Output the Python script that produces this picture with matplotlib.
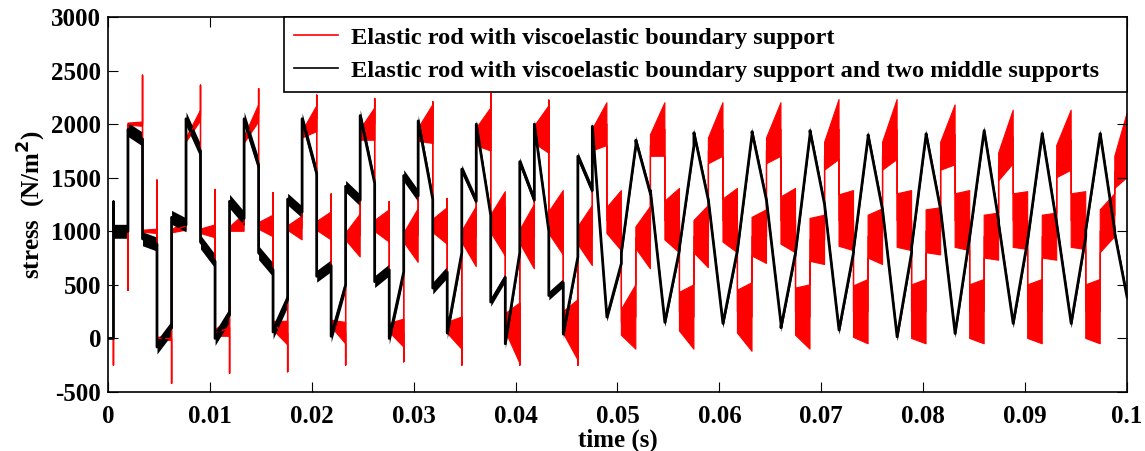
import numpy as np
import matplotlib
matplotlib.use("Agg")
import matplotlib.pyplot as plt
from matplotlib.lines import Line2D

plt.rcParams['font.family'] = ['Liberation Serif', 'DejaVu Serif']
plt.rcParams['font.size'] = 18
plt.rcParams['font.weight'] = 'bold'
plt.rcParams['axes.labelweight'] = 'bold'
plt.rcParams['mathtext.default'] = 'bf'
plt.rcParams['axes.unicode_minus'] = False
plt.rcParams['hatch.linewidth'] = 1.1

# segment edges (ms)
t_edges = [0.54, 1.96, 3.39, 4.81, 6.24, 7.66, 9.08, 10.51, 11.93, 13.36,
           14.78, 16.20, 17.63, 19.05, 20.48, 21.90, 23.32, 24.75, 26.17, 27.60,
           29.02, 30.44, 31.87, 33.29, 34.72, 36.14, 37.56, 38.99, 40.41, 41.84,
           43.26, 44.68, 46.11, 47.53, 48.96, 50.38, 51.80, 53.23, 54.65, 56.08,
           57.50, 58.92, 60.35, 61.77, 63.20, 64.62, 66.04, 67.47, 68.89, 70.32,
           71.74, 73.16, 74.59, 76.01, 77.44, 78.86, 80.28, 81.71, 83.13, 84.56,
           85.98, 87.40, 88.83, 90.25, 91.68, 93.10, 94.52, 95.95, 97.37, 98.80,
           100.0]

# red: elastic rod with viscoelastic boundary support
# one row per cycle: [mid-up, top, mid-down, bottom]
red_start = [1000, 2000, 1000, 0,
             1000, 1850, 1000, 50,
             1020, 1850, 1050, 120,
             1030, 1900, 1050, 140,
             950, 1900, 1050, 100,
             940, 1900, 1050, 100,
             950, 1880, 1070, 150,
             950, 1900, 1080, 150,
             960, 1850, 1100, 150,
             940, 1800, 1100, 250,
             950, 1750, 1100, 250,
             950, 1750, 1100, 250,
             920, 1700, 1100, 250,
             950, 1700, 1100, 250,
             1000, 1700, 1100, 250,
             950, 1600, 1100, 250,
             950, 1650, 1100, 250,
             1000, 1550]
red_end = [1000, 2000, 1000, 0,
           1050, 2080, 1000, 100,
           1080, 2100, 1050, 50,
           1030, 2050, 1050, 50,
           960, 2000, 1050, 50,
           960, 2000, 1050, 50,
           950, 1950, 1070, 50,
           950, 1950, 1080, 80,
           960, 2000, 1100, 200,
           940, 1950, 1100, 200,
           950, 1950, 1100, 200,
           950, 1950, 1100, 200,
           920, 1950, 1100, 250,
           950, 1950, 1100, 250,
           1000, 1900, 1100, 250,
           950, 1880, 1100, 250,
           950, 1850, 1100, 250,
           1150, 1800]
red_amp_start = [5, 10, 10, 10,
                 15, 20, 20, 30,
                 20, 30, 30, 40,
                 20, 30, 40, 30,
                 30, 50, 50, 40,
                 40, 60, 60, 50,
                 50, 80, 80, 80,
                 60, 80, 100, 100,
                 80, 100, 120, 120,
                 100, 100, 180, 180,
                 150, 120, 200, 200,
                 180, 120, 220, 220,
                 200, 130, 240, 240,
                 200, 130, 250, 250,
                 200, 130, 250, 250,
                 200, 130, 250, 250,
                 200, 150, 250, 250,
                 200, 150]
red_amp_end = [5, 20, 20, 20,
               40, 50, 60, 80,
               80, 80, 100, 110,
               110, 120, 130, 100,
               200, 150, 150, 130,
               250, 180, 170, 150,
               280, 200, 300, 280,
               300, 220, 300, 280,
               280, 200, 280, 300,
               290, 250, 300, 300,
               290, 250, 300, 320,
               250, 250, 300, 300,
               230, 280, 280, 300,
               260, 280, 280, 300,
               220, 280, 280, 300,
               220, 250, 270, 300,
               220, 280, 270, 300,
               200, 300]
# spikes of the red curve at the edges (edge index, value)
red_spike_edge = [0, 1, 2, 3, 4, 5, 6, 7, 8, 9, 10, 11, 12, 14, 15, 16,
                  18, 19, 20, 22, 23, 24, 26, 27, 28, 30, 31, 32]
red_spike_val = [-250, 450, 2456, 1477, -420, 1350, 2363, 1390, -326, 1380,
                 2332, 1359, -310, 2270, 1347, -249, 2239, 1275, -217, 2208,
                 1306, -248, 2286, 1228, -248, 2223, 1322, -248]

# black: elastic rod with viscoelastic boundary support and two middle supports
black_start = [1000, 1950, 930, -80,
               1130, 2050, 900, 0,
               1280, 2050, 800, 60,
               1300, 2050, 580, 20,
               1420, 2080, 530, 0,
               1520, 2030, 470, 50,
               1580, 2000, 340, -50,
               1650, 2000, 400, 40,
               1700, 1980, 200, 800,
               1850, 1380, 150, 850,
               1920, 1290, 140, 824,
               1930, 1290, 100, 800,
               1940, 1250, 78, 824,
               1900, 1200, 15, 850,
               1910, 1200, 46, 948,
               1940, 1072, 140, 917,
               1910, 1072, 140, 1010,
               1910, 979]
black_end = [1000, 1860, 880, 100,
             1060, 1750, 720, 220,
             1120, 1620, 640, 360,
             1180, 1540, 680, 500,
             1290, 1450, 640, 620,
             1330, 1300, 620, 800,
             1280, 1150, 570, 800,
             1290, 1000, 520, 760,
             1380, 200, 700, 1800,
             1350, 150, 824, 1800,
             1290, 140, 824, 1900,
             1290, 140, 800, 1900,
             1250, 80, 800, 1880,
             1200, 20, 800, 1900,
             1200, 50, 948, 1940,
             1100, 140, 917, 1912,
             1072, 140, 950, 1912,
             1000, 388]
black_amp = [65] * 12 + [55] * 12 + [40] * 46


def build(start, end, amp_s, amp_e, spikes=None):
    t, y, lo, hi = [0.0, t_edges[0]], [0.0, 0.0], [0.0, 0.0], [0.0, 0.0]
    for k in range(len(start)):
        if spikes is not None and k in spikes:
            t.append(t_edges[k]); y.append(spikes[k]); lo.append(spikes[k]); hi.append(spikes[k])
        t += [t_edges[k], t_edges[k + 1]]
        y += [start[k], end[k]]
        lo += [start[k] - amp_s[k], end[k] - amp_e[k]]
        hi += [start[k] + amp_s[k], end[k] + amp_e[k]]
    return np.array(t) / 1000.0, np.array(y), np.array(lo), np.array(hi)


spk = dict(zip(red_spike_edge, red_spike_val))
tr, yr, lr, hr = build(red_start, red_end, red_amp_start, red_amp_end, spk)
tb, yb, lb, hb = build(black_start, black_end, black_amp, black_amp, {0: 1275})

fig = plt.figure(figsize=(11.45, 4.51), dpi=100)
ax = fig.add_axes([0.0943, 0.1308, 0.8900, 0.8315])

# the red ripple is a dense oscillation: outline the band and streak its inside
ax.fill_between(tr, lr, hr, facecolor='none', edgecolor='red', hatch='|' * 11, lw=0.8)
ax.plot(tr, yr, color='red', lw=1.0)
ax.fill_between(tb, lb, hb, color='black', lw=0)
ax.plot(tb, yb, color='black', lw=2.0)

ax.set_xlim(0, 0.1)
ax.set_ylim(-500, 3000)
ax.set_xticks(np.arange(0, 0.1001, 0.01))
ax.set_xticklabels(['0', '0.01', '0.02', '0.03', '0.04', '0.05',
                    '0.06', '0.07', '0.08', '0.09', '0.1'])
ax.set_yticks(range(-500, 3001, 500))
ax.tick_params(direction='in', length=7, width=0.8, top=True, right=True)
ax.tick_params(axis='x', pad=9)
ax.tick_params(axis='y', pad=5)
for s in ax.spines.values():
    s.set_linewidth(1.2)
ax.set_xlabel('time (s)')
ax.xaxis.set_label_coords(0.5, -0.097)
ax.set_ylabel('stress  (N/m$^2$)', labelpad=2)

handles = [Line2D([], [], color='red', lw=1.2), Line2D([], [], color='black', lw=1.2)]
labels = ['Elastic rod with viscoelastic boundary support',
          'Elastic rod with viscoelastic boundary support and two middle supports']
leg = ax.legend(handles, labels, loc='upper left', bbox_to_anchor=(0.1727, 0.5, 0.8273, 0.5),
                mode='expand', borderaxespad=0, fancybox=False, framealpha=1,
                edgecolor='black', handlelength=1.8, labelspacing=0.45,
                borderpad=0.4, handletextpad=0.55, fontsize=17.6)
leg.get_frame().set_linewidth(1.2)

fig.savefig('out.png', dpi=100)
